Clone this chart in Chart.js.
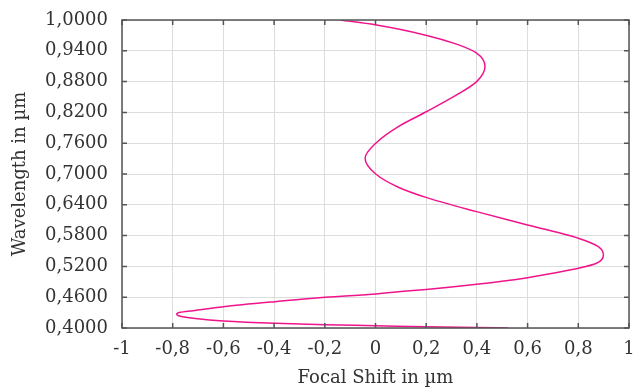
<!DOCTYPE html>
<html>
<head>
<meta charset="utf-8">
<script src="https://cdn.jsdelivr.net/npm/chart.js@4/dist/chart.umd.min.js"></script>
<style>
  html, body { margin: 0; padding: 0; background: #fff; }
  #wrap { width: 637px; height: 390px; }
</style>
</head>
<body>
<div id="wrap"><canvas id="chart"></canvas></div>
<script>
// focal shift (x) along the curve, ordered by wavelength
const focalShift = [
  0.524, 0.399, 0.195, 0.002, -0.199, -0.396, -0.600, -0.719, -0.770, -0.784,
  -0.770, -0.719, -0.600, -0.396, -0.199, 0.002, 0.100, 0.200, 0.399, 0.600,
  0.720, 0.800, 0.872, 0.899, 0.879, 0.800, 0.600, 0.399, 0.202, 0.090,
  0.001, -0.041, 0.001, 0.090, 0.202, 0.320, 0.399, 0.432, 0.399, 0.320,
  0.202, -0.002, -0.140
];
// wavelength (y) in µm
const wavelength = [
  0.4000, 0.4008, 0.4025, 0.4045, 0.4064, 0.4092, 0.4136, 0.4189, 0.4230, 0.4270,
  0.4305, 0.4337, 0.4415, 0.4513, 0.4598, 0.4663, 0.4710, 0.4750, 0.4852, 0.4981,
  0.5085, 0.5163, 0.5261, 0.5423, 0.5585, 0.5749, 0.6008, 0.6267, 0.6540, 0.6743,
  0.7000, 0.7308, 0.7600, 0.7924, 0.8217, 0.8540, 0.8800, 0.9094, 0.9355, 0.9530,
  0.9700, 0.9906, 1.0000
];
const xTicks = [-1, -0.8, -0.6, -0.4, -0.2, 0, 0.2, 0.4, 0.6, 0.8, 1];
const yTicks = [0.40, 0.46, 0.52, 0.58, 0.64, 0.70, 0.76, 0.82, 0.88, 0.94, 1.00];

const textColor = '#333333';
const font = { family: 'DejaVu Serif', size: 18 };

// the curve is a function of wavelength, so smooth it along y
const monotoneY = {
  id: 'monotoneY',
  beforeDatasetsDraw(chart) {
    const line = chart.getDatasetMeta(0).dataset;
    if (line && line.updateControlPoints) {
      line._pointsUpdated = false;
      line._path = undefined;
      line.updateControlPoints(chart.chartArea, 'y');
    }
  }
};

// frame round the plot with inward tick marks on all four sides
const framePlugin = {
  id: 'frame',
  afterDatasetsDraw(chart) {
    const { ctx, chartArea: a, scales } = chart;
    ctx.save();
    ctx.strokeStyle = '#555555';
    ctx.lineWidth = 1.5;
    ctx.strokeRect(a.left, a.top, a.right - a.left, a.bottom - a.top);
    ctx.beginPath();
    xTicks.forEach(v => {
      const px = scales.x.getPixelForValue(v);
      ctx.moveTo(px, a.bottom); ctx.lineTo(px, a.bottom - 5);
      ctx.moveTo(px, a.top); ctx.lineTo(px, a.top + 5);
    });
    yTicks.forEach(v => {
      const py = scales.y.getPixelForValue(v);
      ctx.moveTo(a.left, py); ctx.lineTo(a.left + 5, py);
      ctx.moveTo(a.right, py); ctx.lineTo(a.right - 5, py);
    });
    ctx.stroke();
    ctx.restore();
  }
};

new Chart(document.getElementById('chart'), {
  type: 'line',
  data: {
    datasets: [{
      data: focalShift.map((x, i) => ({ x: x, y: wavelength[i] })),
      borderColor: '#f0148c',
      borderWidth: 1.5,
      pointRadius: 0,
      fill: false,
      cubicInterpolationMode: 'monotone'
    }]
  },
  options: {
    indexAxis: 'y',
    responsive: true,
    maintainAspectRatio: false,
    animation: false,
    layout: { padding: { top: 20, right: 8, left: 0, bottom: 0 } },
    plugins: { legend: { display: false }, tooltip: { enabled: false } },
    scales: {
      x: {
        type: 'linear',
        min: -1,
        max: 1,
        afterBuildTicks: s => { s.ticks = xTicks.map(v => ({ value: v })); },
        afterFit: s => { s.height = 62; s.paddingLeft = 0; s.paddingRight = 0; },
        grid: { color: '#dddddd', drawTicks: false },
        border: { display: false },
        ticks: {
          color: textColor,
          font: font,
          padding: 11,
          maxRotation: 0,
          callback: v => String(Number(v.toFixed(1))).replace('.', ',')
        },
        title: {
          display: true,
          text: 'Focal Shift in µm',
          color: textColor,
          font: font,
          padding: { top: 0, bottom: 1 }
        }
      },
      y: {
        type: 'linear',
        min: 0.4,
        max: 1.0,
        afterBuildTicks: s => { s.ticks = yTicks.map(v => ({ value: v })); },
        afterFit: s => { s.width = 122; s.paddingTop = 0; s.paddingBottom = 0; },
        grid: { color: '#dddddd', drawTicks: false },
        border: { display: false },
        ticks: {
          color: textColor,
          font: font,
          padding: 14,
          callback: v => v.toFixed(4).replace('.', ',')
        },
        title: {
          display: true,
          text: 'Wavelength in µm',
          color: textColor,
          font: font,
          padding: { top: 10, bottom: 0 }
        }
      }
    }
  },
  plugins: [monotoneY, framePlugin]
});
</script>
</body>
</html>
